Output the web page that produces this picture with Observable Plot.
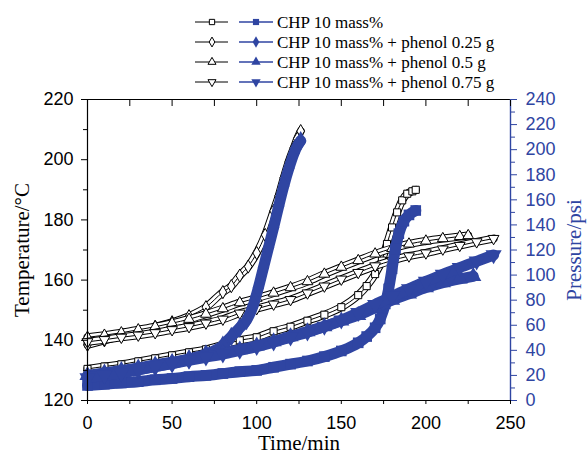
<!DOCTYPE html>
<html><head><meta charset="utf-8">
<script src="https://cdn.jsdelivr.net/npm/d3@7"></script>
<script src="https://cdn.jsdelivr.net/npm/@observablehq/plot@0.6"></script>
<style>
body{margin:0;background:#fff;}
#wrap{position:relative;width:587px;height:456px;overflow:hidden;}
#legend{position:absolute;left:0;top:0;}
</style></head><body><div id="wrap"><svg id="legend" width="587" height="95"></svg><div id="chart"></div></div>
<script>
// ---- data ----
const seriesNames = ["CHP 10 mass%", "CHP 10 mass% + phenol 0.25 g", "CHP 10 mass% + phenol 0.5 g", "CHP 10 mass% + phenol 0.75 g"];

// CHP 10 mass% (squares)
const sqTimeT = [0,10,20,30,40,50,60,70,80,90,100,110,120,130,140,150,160,165,170,174,177,180,183,186,189,192,194];
const sqTemp  = [130.5,131.3,132,133,134,135,136,137,138.5,140,141,143,144.5,146.5,148.5,151,155,158,162,166.5,172,177.5,182.5,186.5,188.7,189.5,190];
const sqTimeP = [0,10,20,30,40,50,60,70,80,90,100,110,120,130,140,150,160,165,170,173,176,178,180,182,184,187,190,194];
const sqPres  = [12,13,14,15,16.5,17.5,19,20,21.5,23,24,26.5,29,31.5,35,39.5,46,51,58,65,77,89,105,121,133,143,148,151.5];

// + phenol 0.25 g (diamonds)
const dmTimeT = [0,10,20,30,40,50,60,70,80,85,90,95,100,105,110,113,116,119,122,124,126];
const dmTemp  = [138.5,140,141.5,143,144.5,146,148,151,156,158,161.5,164.5,169,175,183,188,194,199.5,204,207,209.5];
const dmTimeP = [0,10,20,30,40,50,60,70,80,85,90,94,98,101,104,107,110,113,116,119,122,124,126];
const dmPres  = [19,20.5,22.5,24.5,27,29.5,33,37,44,51,58,64,76,90,106,122,138,155,171,185,197,203,207];

// + phenol 0.5 g (up triangles)
const upTimeT = [0,10,20,30,40,50,60,70,80,90,100,110,120,130,140,150,160,170,180,190,200,210,220,225];
const upTemp  = [141,141.7,142.5,143.5,144.5,145.7,147,148.7,150.5,152.5,154,155.7,157.5,159.5,162,164.3,166.5,168.7,170.5,172,173,173.8,174.5,174.8];
const upTimeP = [0,10,20,30,40,50,60,70,80,90,100,110,120,130,140,150,160,170,180,190,200,210,220,228];
const upPres  = [20,22,24,26,28.5,30.5,33,35.5,38,40.5,43.5,47,51,55,59,63.5,68,74,80,85,90,94,97,99];

// + phenol 0.75 g (down triangles)
const dnTimeT = [0,10,20,30,40,50,60,70,80,90,100,110,120,130,140,150,160,170,180,190,200,210,220,230,240];
const dnTemp  = [139.5,140.2,141,141.7,142.5,143.5,144.5,145.7,147,149,150.5,152,153.5,155.7,158,160.3,162.5,164.7,166.5,168,169,170.3,171.5,172.7,173.8];
const dnTimeP = [0,10,20,30,40,50,60,70,80,90,100,110,120,130,140,150,160,170,180,190,200,210,220,230,240];
const dnPres  = [18,20,22,24.5,27,29.5,32,34.5,37,40,43,46.5,50.5,54.5,59,64,70,76.5,83,89,95,100.5,106,111,116];

const xTicks = [0,50,100,150,200,250];
const tempTicks = [120,140,160,180,200,220];
const presTicks = [0,20,40,60,80,100,120,140,160,180,200,220,240];

// ---- setup ----
const blue = "#2f45a2";
const serif = "Liberation Serif, Times New Roman, serif";
const toT = p => 120 + p * 100 / 240;
const mk = (ts, vs, f = v => v) => ts.map((t, i) => ({t, v: f(vs[i])}));
const triDown = {
  draw(ctx, size) {
    const s3 = Math.sqrt(3);
    const y = -Math.sqrt(size / (s3 * 3));
    ctx.moveTo(0, -y * 2);
    ctx.lineTo(-s3 * y, y);
    ctx.lineTo(s3 * y, y);
    ctx.closePath();
  }
};
const symbols = [d3.symbolSquare, d3.symbolDiamond, d3.symbolTriangle, triDown];
const tempSeries = [mk(sqTimeT, sqTemp), mk(dmTimeT, dmTemp), mk(upTimeT, upTemp), mk(dnTimeT, dnTemp)];
const presSeries = [mk(sqTimeP, sqPres, toT), mk(dmTimeP, dmPres, toT), mk(upTimeP, upPres, toT), mk(dnTimeP, dnPres, toT)];

const marks = [];
tempSeries.forEach((d, i) => {
  marks.push(
    Plot.line(d, {x: "t", y: "v", stroke: "black", strokeWidth: 8, curve: "monotone-x"}),
    Plot.line(d, {x: "t", y: "v", stroke: "white", strokeWidth: 6, curve: "monotone-x"}),
    Plot.line(d, {x: "t", y: "v", stroke: "black", strokeWidth: 1, curve: "monotone-x"}),
    Plot.dot(d, {x: "t", y: "v", symbol: symbols[i], r: 4, fill: "white", stroke: "black", strokeWidth: 1})
  );
});
presSeries.forEach((d, i) => {
  marks.push(
    Plot.line(d, {x: "t", y: "v", stroke: blue, strokeWidth: 11, curve: "monotone-x"}),
    Plot.dot(d, {x: "t", y: "v", symbol: symbols[i], r: 6, fill: blue, stroke: "none"})
  );
});

const minorTemp = d3.range(130, 220, 20);
const minorPres = d3.range(10, 240, 20).map(toT);

marks.push(
  Plot.ruleX([0], {stroke: "black", strokeWidth: 1.2}),
  Plot.ruleY([120], {stroke: "black", strokeWidth: 1.2}),
  Plot.ruleY([220], {stroke: "black", strokeWidth: 1.2}),
  Plot.ruleX([250], {stroke: blue, strokeWidth: 1.4}),
  Plot.axisY({anchor: "left", ticks: tempTicks, tickSize: 6, tickPadding: 8, label: null, fontSize: 18}),
  Plot.axisY({anchor: "left", ticks: minorTemp, tickSize: 4, text: null, label: null}),
  Plot.axisY({anchor: "right", ticks: presTicks.map(toT), tickFormat: v => String(Math.round((v - 120) * 2.4)),
              tickSize: 6, tickPadding: 9, label: null, color: blue, fontSize: 18}),
  Plot.axisY({anchor: "right", ticks: minorPres, tickSize: 4, text: null, label: null, color: blue}),
  Plot.axisX({anchor: "bottom", ticks: xTicks, tickSize: 4, tickPadding: 12, label: null, fontSize: 18}),
  Plot.axisX({anchor: "bottom", ticks: d3.range(25, 250, 50), tickSize: 4, text: null, label: null}),
  Plot.axisX({anchor: "top", ticks: d3.range(0, 251, 25), tickSize: 6, dy: 6, text: null, label: null}),
  Plot.text(["Temperature/°C"], {frameAnchor: "left", dx: -65, rotate: -90, textAnchor: "middle", lineAnchor: "middle",
            fontFamily: serif, fontSize: 21, fill: "black"}),
  Plot.text(["Pressure/psi"], {frameAnchor: "right", dx: 64, rotate: -90, textAnchor: "middle", lineAnchor: "middle",
            fontFamily: serif, fontSize: 21, fill: blue}),
  Plot.text(["Time/min"], {frameAnchor: "bottom", dy: 43, textAnchor: "middle", lineAnchor: "middle",
            fontFamily: serif, fontSize: 21, fill: "black"})
);

const chart = Plot.plot({
  width: 587, height: 456,
  marginLeft: 87, marginRight: 77, marginTop: 99, marginBottom: 56,
  x: {domain: [0, 250]},
  y: {domain: [120, 220]},
  style: {fontFamily: "Liberation Sans, Arial, sans-serif", fontSize: "18px", background: "white", color: "black"},
  marks
});
document.getElementById("chart").appendChild(chart);

// ---- legend ----
const lg = d3.select("#legend");
seriesNames.forEach((name, i) => {
  const cy = 22 + i * 20;
  lg.append("line").attr("x1", 195).attr("x2", 228).attr("y1", cy).attr("y2", cy).attr("stroke", "black");
  lg.append("path").attr("d", d3.symbol(symbols[i], 28)()).attr("transform", `translate(212,${cy})`)
    .attr("fill", "white").attr("stroke", "black");
  lg.append("line").attr("x1", 239).attr("x2", 273).attr("y1", cy).attr("y2", cy).attr("stroke", blue).attr("stroke-width", 1.3);
  lg.append("path").attr("d", d3.symbol(symbols[i], 38)()).attr("transform", `translate(256,${cy})`).attr("fill", blue);
  lg.append("text").attr("x", 277).attr("y", cy + 5.5).text(name)
    .attr("font-family", serif).attr("font-size", 17).attr("fill", "black");
});
</script></body></html>
